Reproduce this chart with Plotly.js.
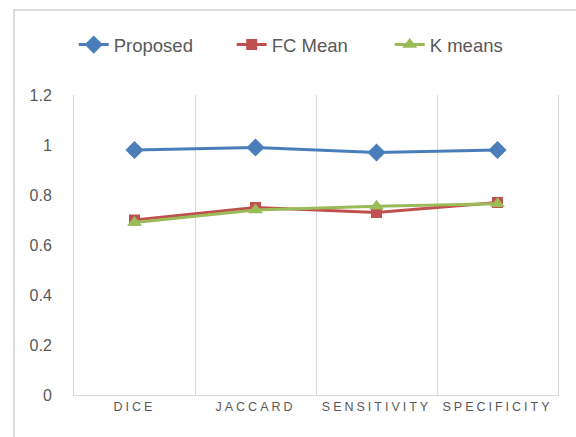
<!DOCTYPE html>
<html>
<head>
<meta charset="utf-8">
<script src="https://cdn.plot.ly/plotly-3.0.1.min.js"></script>
<style>
html,body{margin:0;padding:0;background:#fff;}
#wrap{position:relative;width:576px;height:437px;}
#chart{width:576px;height:437px;}
.xtick text{letter-spacing:3px;}
#btop{position:absolute;left:13px;top:9px;width:563px;height:2px;background:#DCDCDC;}
#bleft{position:absolute;left:13px;top:9px;width:2px;height:428px;background:#DCDCDC;}
</style>
</head>
<body>
<div id="wrap">
<div id="chart"></div>
<div id="btop"></div>
<div id="bleft"></div>
</div>
<script>
const categories = ["DICE", "JACCARD", "SENSITIVITY", "SPECIFICITY"];
const proposed = [0.98, 0.99, 0.97, 0.98];
const fcMean = [0.70, 0.75, 0.73, 0.77];
const kMeans = [0.69, 0.74, 0.755, 0.765];
const yTicks = [0, 0.2, 0.4, 0.6, 0.8, 1, 1.2];
const yTickText = ["0", "0.2", "0.4", "0.6", "0.8", "1", "1.2"];

const traces = [
  {x: categories, y: proposed, name: "Proposed", type: "scatter", mode: "lines+markers",
   line: {color: "#4A7EBB", width: 3}, marker: {symbol: "diamond", size: 14, color: "#4A7EBB"}},
  {x: categories, y: fcMean, name: "FC Mean", type: "scatter", mode: "lines+markers",
   line: {color: "#C0504D", width: 3}, marker: {symbol: "square", size: 11, color: "#C0504D"}},
  {x: categories, y: kMeans, name: "K means", type: "scatter", mode: "lines+markers",
   line: {color: "#9BBB59", width: 3}, marker: {symbol: "triangle-up", size: 13, color: "#9BBB59"}}
];

const layout = {
  width: 576, height: 437,
  margin: {l: 74, r: 18, t: 95, b: 42},
  paper_bgcolor: "#fff", plot_bgcolor: "#fff",
  font: {family: "Liberation Sans, Arial, sans-serif", color: "#595959"},
  showlegend: true,
  legend: {orientation: "h", xref: "container", yref: "container", x: 0.128, xanchor: "left",
    y: 0.897, yanchor: "middle",
    font: {size: 18.5, color: "#595959"}, entrywidth: 113, entrywidthmode: "pixels", traceorder: "normal"},
  xaxis: {type: "category", range: [-0.5, 3.5], autorange: false, tickson: "boundaries",
    showgrid: true, gridcolor: "#D9D9D9", gridwidth: 1,
    showline: true, linecolor: "#D9D9D9", linewidth: 1, mirror: false,
    ticks: "", tickfont: {size: 12.5, color: "#595959"},
    zeroline: false, fixedrange: true},
  yaxis: {range: [0, 1.2], autorange: false, tickvals: yTicks, ticktext: yTickText, showgrid: false, zeroline: false,
    showline: true, mirror: true, linecolor: "#D9D9D9", linewidth: 1,
    ticks: "outside", ticklen: 18, tickcolor: "rgba(0,0,0,0)",
    tickfont: {size: 16, color: "#595959"}, fixedrange: true}
};

Plotly.newPlot("chart", traces, layout, {displayModeBar: false, staticPlot: true});
</script>
</body>
</html>
